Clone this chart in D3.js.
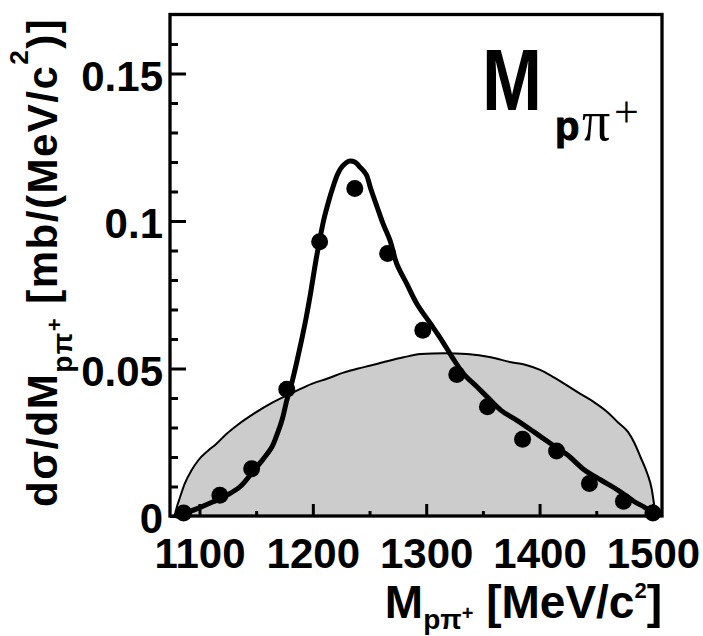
<!DOCTYPE html>
<html>
<head>
<meta charset="utf-8">
<script src="https://cdn.jsdelivr.net/npm/d3@7"></script>
<style>
  html, body { margin: 0; padding: 0; background: #fff; }
  svg { display: block; }
  text { font-family: "Liberation Sans", Arial, Helvetica, sans-serif; font-weight: bold; fill: #000; }
</style>
</head>
<body>
<svg id="chart" width="703" height="636"></svg>
<script>
// Measured cross section dσ/dM(pπ+) in mb/(MeV/c²)
const pointMass  = [1086, 1118, 1146, 1177, 1206, 1237, 1266, 1297, 1327, 1354, 1385, 1415, 1444, 1474, 1500];
const pointValue = [0.001, 0.007, 0.016, 0.043, 0.093, 0.111, 0.089, 0.063, 0.048, 0.037, 0.026, 0.022, 0.011, 0.005, 0.001];

// Model curve (Δ(1232) dominated)
const fitMass  = [1080, 1086, 1098, 1112, 1124, 1136, 1147, 1156, 1164, 1168, 1173, 1177, 1182, 1186, 1190, 1194, 1198, 1202, 1206, 1210, 1214, 1218, 1222, 1226, 1232, 1237, 1241, 1247, 1251, 1257, 1262, 1268, 1274, 1283, 1292, 1304, 1314, 1323, 1333, 1345, 1354, 1366, 1380, 1395, 1410, 1425, 1439, 1454, 1469, 1483, 1495, 1501];
const fitValue = [0, 0.0008, 0.0025, 0.0048, 0.0070, 0.0100, 0.0150, 0.0192, 0.0235, 0.0272, 0.0328, 0.0392, 0.0460, 0.0525, 0.0595, 0.0670, 0.0755, 0.0850, 0.0935, 0.1010, 0.1068, 0.1118, 0.1160, 0.1185, 0.1203, 0.1200, 0.1185, 0.1158, 0.1110, 0.1044, 0.0990, 0.0935, 0.0855, 0.0786, 0.0718, 0.0651, 0.0594, 0.0538, 0.0482, 0.0437, 0.0403, 0.0358, 0.0324, 0.0285, 0.0245, 0.0206, 0.0158, 0.0122, 0.0088, 0.0050, 0.0024, 0.0003];

// Phase-space distribution (shaded)
const psMass  = [1078, 1080, 1082, 1087, 1093, 1099, 1108, 1115, 1124, 1133, 1148, 1165, 1185, 1199, 1213, 1227, 1240, 1251, 1262, 1280, 1295, 1316, 1336, 1357, 1375, 1388, 1400, 1410, 1422, 1436, 1448, 1460, 1469, 1478, 1484, 1489, 1495, 1499, 1501, 1502.5];
const psValue = [0, 0.0030, 0.0054, 0.0110, 0.0155, 0.0189, 0.0223, 0.0245, 0.0279, 0.0307, 0.0347, 0.0386, 0.0423, 0.0448, 0.0466, 0.0486, 0.0500, 0.0510, 0.0521, 0.0538, 0.0549, 0.0552, 0.0549, 0.0538, 0.0521, 0.0512, 0.0496, 0.0476, 0.0448, 0.0414, 0.0386, 0.0352, 0.0318, 0.0285, 0.0245, 0.0200, 0.0144, 0.0090, 0.0040, 0];

// Axis ticks
const xMajorTicks = [1100, 1200, 1300, 1400, 1500];
const xMinorTicks = [1150, 1250, 1350, 1450];
const yMajorTicks = [0, 0.05, 0.1, 0.15];
const yMinorTicks = [0.01, 0.02, 0.03, 0.04, 0.06, 0.07, 0.08, 0.09, 0.11, 0.12, 0.13, 0.14, 0.16];
const yTickLabels = ["0", "0.05", "0.1", "0.15"];

const svg = d3.select("#chart");
const frame = { left: 170, right: 662, top: 14.5, bottom: 516 };

const x = d3.scaleLinear().domain([1074, 1508]).range([frame.left, frame.right]);
const y = d3.scaleLinear().domain([0, 0.17]).range([frame.bottom, frame.top]);

svg.append("clipPath").attr("id", "plotclip")
  .append("rect").attr("x", frame.left).attr("y", frame.top)
  .attr("width", frame.right - frame.left).attr("height", frame.bottom - frame.top + 4);

const plot = svg.append("g").attr("clip-path", "url(#plotclip)");

// phase space
const ps = psMass.map((m, i) => [m, psValue[i]]);
plot.append("path")
  .datum(ps)
  .attr("d", d3.area().x(d => x(d[0])).y0(y(0)).y1(d => y(d[1])).curve(d3.curveMonotoneX))
  .attr("fill", "#cccccc");
plot.append("path")
  .datum(ps)
  .attr("d", d3.line().x(d => x(d[0])).y(d => y(d[1])).curve(d3.curveMonotoneX))
  .attr("fill", "none").attr("stroke", "#000").attr("stroke-width", 2);

// model curve
const fit = fitMass.map((m, i) => [m, fitValue[i]]);
svg.append("path")
  .datum(fit)
  .attr("d", d3.line().x(d => x(d[0])).y(d => y(d[1])).curve(d3.curveCatmullRom))
  .attr("fill", "none").attr("stroke", "#000").attr("stroke-width", 5)
  .attr("stroke-linejoin", "round").attr("stroke-linecap", "round");

// data points
svg.append("g").selectAll("circle")
  .data(pointMass.map((m, i) => [m, pointValue[i]]))
  .join("circle")
  .attr("cx", d => x(d[0])).attr("cy", d => y(d[1])).attr("r", 8.5)
  .attr("fill", "#000");

// axes
function styleAxis(g) {
  g.select(".domain").remove();
  g.selectAll("line").attr("stroke", "#000").attr("stroke-width", 3);
  g.selectAll("text").attr("font-size", 42).attr("fill", "#000")
    .style("font-family", '"Liberation Sans", Arial, sans-serif').style("font-weight", "bold");
}

svg.append("g").attr("transform", `translate(${frame.left},0)`)
  .call(d3.axisLeft(y).tickValues(yMinorTicks).tickSize(-8).tickFormat(""))
  .call(styleAxis);
svg.append("g").attr("transform", `translate(${frame.left},0)`)
  .call(d3.axisLeft(y).tickValues(yMajorTicks).tickSize(-16).tickPadding(7)
        .tickFormat((d, i) => yTickLabels[i]))
  .call(styleAxis)
  .call(g => g.selectAll("text").attr("dy", "0.4em"));

svg.append("g").attr("transform", `translate(0,${frame.bottom})`)
  .call(d3.axisBottom(x).tickValues(xMinorTicks).tickSize(-5).tickFormat(""))
  .call(styleAxis);
svg.append("g").attr("transform", `translate(0,${frame.bottom})`)
  .call(d3.axisBottom(x).tickValues(xMajorTicks).tickSize(-12).tickPadding(22).tickFormat(d3.format("d")))
  .call(styleAxis);

// frame
svg.append("rect")
  .attr("x", frame.left).attr("y", frame.top)
  .attr("width", frame.right - frame.left).attr("height", frame.bottom - frame.top)
  .attr("fill", "none").attr("stroke", "#000").attr("stroke-width", 3.3);

// y title
const yt = svg.append("text")
  .attr("transform", "translate(57,507) rotate(-90)")
  .attr("font-size", 42).style("letter-spacing", "1.5px");
yt.append("tspan").text("dσ/dM");
yt.append("tspan").attr("font-size", 28).attr("dy", 15).text("pπ");
yt.append("tspan").attr("font-size", 22).attr("dy", -10).text("+");
yt.append("tspan").attr("dy", -5).text(" [mb/(MeV/c");
yt.append("tspan").attr("font-size", 26).attr("dy", -29).text("2");
yt.append("tspan").attr("dy", 29).text(")]");

// x title
const xt = svg.append("text")
  .attr("x", 662).attr("y", 618).attr("text-anchor", "end")
  .attr("font-size", 46);
xt.append("tspan").text("M");
xt.append("tspan").attr("font-size", 28).attr("dy", 11).text("pπ");
xt.append("tspan").attr("font-size", 20).attr("dy", -9).text("+");
xt.append("tspan").attr("dy", -2).text(" [MeV/c");
xt.append("tspan").attr("font-size", 22).attr("dy", -20).text("2");
xt.append("tspan").attr("dy", 20).text("]");

// panel label: M with subscript pπ+
svg.append("text").attr("x", 482).attr("y", 110).attr("font-size", 88)
  .attr("textLength", 60).attr("lengthAdjust", "spacingAndGlyphs").text("M");
const sub = svg.append("text").attr("y", 140);
sub.append("tspan").attr("x", 555).attr("font-size", 40)
  .style("font-weight", "900").style("stroke", "#000").style("stroke-width", 1)
  .text("p");
sub.append("tspan").attr("x", 582).attr("font-size", 56)
  .style("font-family", '"Liberation Serif", "Times New Roman", serif').style("font-weight", "normal")
  .text("π");
sub.append("tspan").attr("x", 614).attr("dy", -13).attr("font-size", 44)
  .style("font-family", '"Liberation Serif", "Times New Roman", serif').style("font-weight", "normal")
  .text("+");
</script>
</body>
</html>
